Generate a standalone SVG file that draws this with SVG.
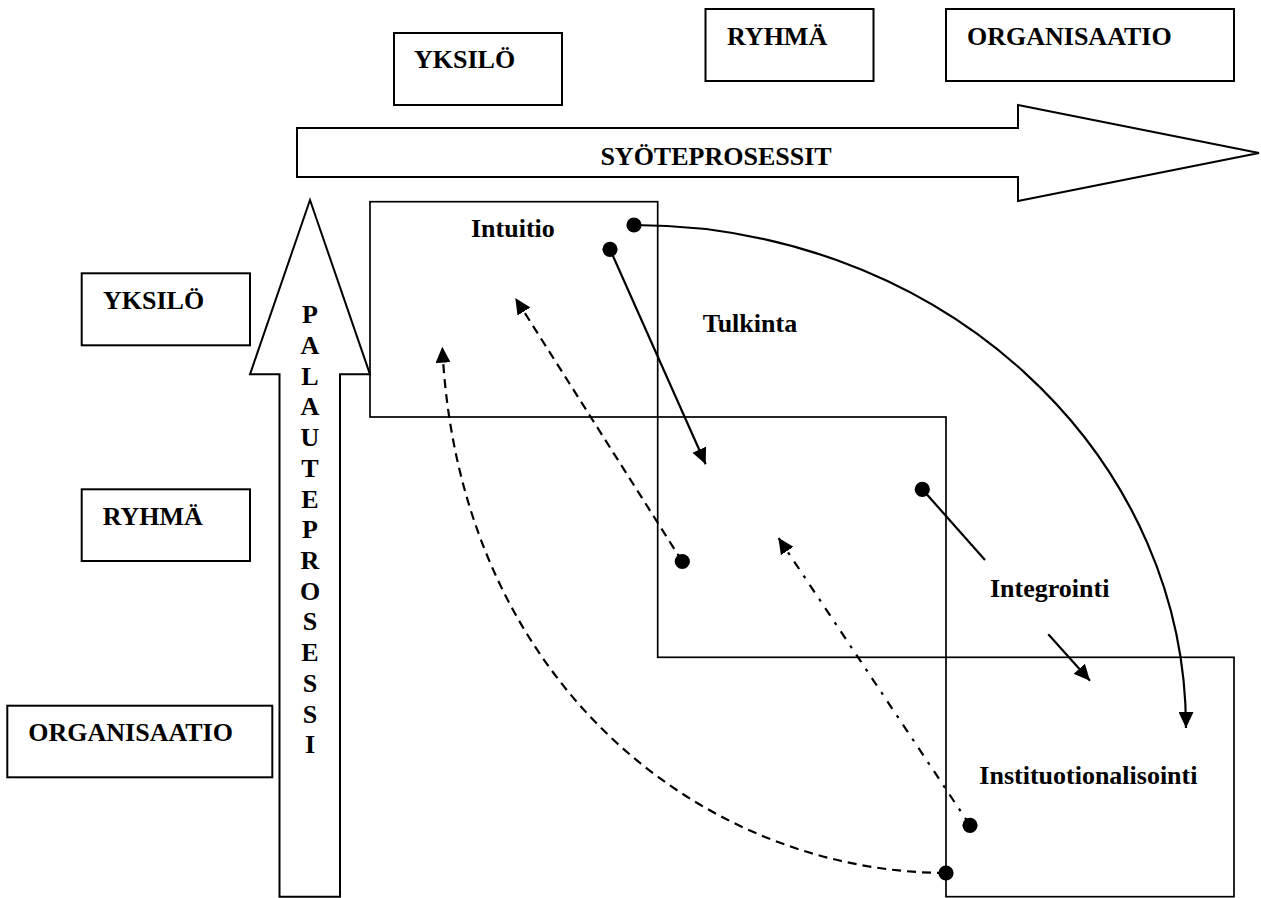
<svg xmlns="http://www.w3.org/2000/svg" width="1261" height="898" viewBox="0 0 1261 898">
  <style>
    .box { fill: #fff; stroke: #000; stroke-width: 2; }
    .stage { fill: none; stroke: #000; stroke-width: 1.7; }
    .big { fill: #fff; stroke: #000; stroke-width: 2; stroke-linejoin: miter; }
    .lbl { font-family: "Liberation Serif", "Times New Roman", serif; font-weight: bold; font-size: 26px; fill: #000; }
    .mid { text-anchor: middle; }
    .link { fill: none; stroke: #000; stroke-width: 2.2; }
    .dash { stroke-dasharray: 9 6; }
    .dashdot { stroke-dasharray: 9 8 3 8; }
    .dot { fill: #000; }
  </style>
  <defs>
    <marker id="head" markerUnits="userSpaceOnUse" viewBox="0 0 16 15" refX="16" refY="7.5" markerWidth="16" markerHeight="15" orient="auto">
      <path d="M0,0 L16,7.5 L0,15 z" fill="#000"/>
    </marker>
  </defs>

  <!-- level headings along the top -->
  <g id="top-yksilo">
    <rect class="box" x="394" y="33" width="168" height="72"/>
    <text class="lbl" x="414" y="68">YKSILÖ</text>
  </g>
  <g id="top-ryhma">
    <rect class="box" x="705.5" y="9" width="168" height="72"/>
    <text class="lbl" x="727" y="45">RYHMÄ</text>
  </g>
  <g id="top-organisaatio">
    <rect class="box" x="946" y="9" width="288" height="72"/>
    <text class="lbl" x="967" y="45">ORGANISAATIO</text>
  </g>

  <!-- feed-forward block arrow -->
  <g id="syoteprosessit">
    <polygon class="big" points="297,128 1018,128 1018,105 1259,153 1018,201 1018,177 297,177"/>
    <text class="lbl mid" x="716" y="165">SYÖTEPROSESSIT</text>
  </g>

  <!-- level headings down the left side -->
  <g id="left-yksilo">
    <rect class="box" x="81.7" y="273.3" width="168.3" height="72"/>
    <text class="lbl" x="103" y="309">YKSILÖ</text>
  </g>
  <g id="left-ryhma">
    <rect class="box" x="81.7" y="489.3" width="168.3" height="71.7"/>
    <text class="lbl" x="102.7" y="525">RYHMÄ</text>
  </g>
  <g id="left-organisaatio">
    <rect class="box" x="7.3" y="705.7" width="265" height="71.6"/>
    <text class="lbl" x="28.3" y="740.7">ORGANISAATIO</text>
  </g>

  <!-- feedback block arrow with vertical lettering -->
  <g id="palauteprosessi">
    <polygon class="big" points="310,200 370,374.3 340,374.3 340,896.7 279.5,896.7 279.5,374.3 250,374.3"/>
    <g class="lbl mid">
      <text x="310" y="323.3">P</text>
      <text x="310" y="354">A</text>
      <text x="310" y="384.7">L</text>
      <text x="310" y="415.4">A</text>
      <text x="310" y="446.1">U</text>
      <text x="310" y="476.8">T</text>
      <text x="310" y="507.6">E</text>
      <text x="310" y="538.3">P</text>
      <text x="310" y="569">R</text>
      <text x="310" y="599.7">O</text>
      <text x="310" y="630.4">S</text>
      <text x="310" y="661.1">E</text>
      <text x="310" y="691.8">S</text>
      <text x="310" y="722.6">S</text>
      <text x="310" y="753.3">I</text>
    </g>
  </g>

  <!-- staircase of learning stages -->
  <g id="intuitio">
    <rect class="stage" x="370" y="201.7" width="287.7" height="215.3"/>
    <text class="lbl" x="471" y="236.7">Intuitio</text>
  </g>
  <g id="tulkinta">
    <rect class="stage" x="657.7" y="417" width="288.3" height="240.3"/>
    <text class="lbl" x="702.7" y="331.7">Tulkinta</text>
  </g>
  <g id="integrointi">
    <text class="lbl" x="990" y="596.7">Integrointi</text>
  </g>
  <g id="instituotionalisointi">
    <rect class="stage" x="946" y="657.3" width="288" height="239.4"/>
    <text class="lbl" x="979.3" y="784">Instituotionalisointi</text>
  </g>

  <!-- process links -->
  <g id="connectors">
    <!-- feed-forward: intuition to institution -->
    <path class="link" d="M634,225 A552,503 0 0 1 1186,728" marker-end="url(#head)"/>
    <circle class="dot" cx="634" cy="225" r="7.6"/>
    <!-- intuition to interpretation -->
    <line class="link" x1="610" y1="249.3" x2="705.7" y2="464.3" marker-end="url(#head)"/>
    <circle class="dot" cx="610" cy="249.3" r="7.6"/>
    <!-- integration, split around its label -->
    <line class="link" x1="922.3" y1="489.3" x2="985" y2="560"/>
    <circle class="dot" cx="922.3" cy="489.3" r="7.6"/>
    <line class="link" x1="1048.3" y1="634.3" x2="1090" y2="680.7" marker-end="url(#head)"/>
    <!-- feedback: interpretation back to intuition -->
    <line class="link dash" x1="682.3" y1="561.5" x2="515.3" y2="298" marker-end="url(#head)"/>
    <circle class="dot" cx="682.3" cy="561.5" r="7.6"/>
    <!-- feedback: institution back to interpretation -->
    <line class="link dashdot" x1="970" y1="825.3" x2="778.3" y2="537.7" marker-end="url(#head)"/>
    <circle class="dot" cx="970" cy="825.3" r="7.6"/>
    <!-- feedback: institution back to intuition -->
    <path class="link dash" d="M946,873 C700,872 458,680 442.3,346.7" marker-end="url(#head)"/>
    <circle class="dot" cx="946" cy="873" r="7.6"/>
  </g>
</svg>
